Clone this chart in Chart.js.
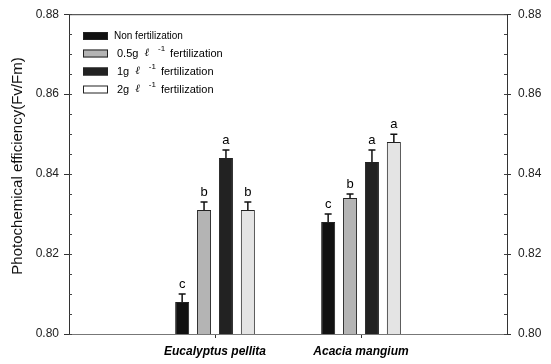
<!DOCTYPE html>
<html>
<head>
<meta charset="utf-8">
<script src="https://cdn.jsdelivr.net/npm/chart.js@4.4.0/dist/chart.umd.min.js"></script>
<style>
  body { margin: 0; background: #fff; }
  #chart { display: block; }
</style>
</head>
<body>
<canvas id="chart" width="551" height="364"></canvas>
<script>
// values
const species = ['Eucalyptus pellita', 'Acacia mangium'];
const nonFert = [0.808, 0.828];
const fert05 = [0.831, 0.834];
const fert1 = [0.844, 0.843];
const fert2 = [0.831, 0.848];
const errNon = [0.002, 0.002];
const err05 = [0.002, 0.001];
const err1 = [0.002, 0.003];
const err2 = [0.002, 0.002];
const lettersNon = ['c', 'c'];
const letters05 = ['b', 'b'];
const letters1 = ['a', 'a'];
const letters2 = ['b', 'a'];
const yTicks = [0.80, 0.82, 0.84, 0.86, 0.88];
const yMinorStep = 0.005;

// empty slots on both sides, like the original axis 0..3
const labels = ['', ...species, ''];
const pad = arr => [null, ...arr, null];

const fills = ['#111111', '#b4b4b4', '#222222', '#e4e4e4'];
const legendRows = [
  { main: 'Non fertilization', sup: null },
  { main: '0.5g', sup: '-1' },
  { main: '1g', sup: '-1' },
  { main: '2g', sup: '-1' }
];

const errors = [errNon, err05, err1, err2];
const letters = [lettersNon, letters05, letters1, letters2];

const data = {
  labels: labels,
  datasets: [
    { label: 'Non fertilization', data: pad(nonFert), backgroundColor: fills[0] },
    { label: '0.5g fertilization', data: pad(fert05), backgroundColor: fills[1] },
    { label: '1g fertilization', data: pad(fert1), backgroundColor: fills[2] },
    { label: '2g fertilization', data: pad(fert2), backgroundColor: fills[3] }
  ].map(ds => Object.assign(ds, {
    borderColor: '#222',
    borderWidth: 1,
    categoryPercentage: 0.6,
    barPercentage: 0.64
  }))
};

// error bars, letters, minor ticks, frame, legend, y title
const extras = {
  id: 'extras',
  afterDatasetsDraw(chart) {
    const ctx = chart.ctx;
    const y = chart.scales.y;
    const area = chart.chartArea;
    ctx.save();

    // error bars + significance letters
    chart.data.datasets.forEach((ds, i) => {
      const meta = chart.getDatasetMeta(i);
      species.forEach((s, j) => {
        const bar = meta.data[j + 1];
        const v = ds.data[j + 1];
        const top = y.getPixelForValue(v + errors[i][j]);
        ctx.strokeStyle = '#111';
        ctx.lineWidth = 1.5;
        ctx.beginPath();
        ctx.moveTo(bar.x, bar.y);
        ctx.lineTo(bar.x, top);
        ctx.moveTo(bar.x - 3.5, top);
        ctx.lineTo(bar.x + 3.5, top);
        ctx.stroke();
        ctx.fillStyle = '#000';
        ctx.font = '13px Arial, "Liberation Sans", sans-serif';
        ctx.textAlign = 'center';
        ctx.textBaseline = 'alphabetic';
        ctx.fillText(letters[i][j], bar.x, top - 6);
      });
    });

    // top frame line
    ctx.strokeStyle = '#333';
    ctx.lineWidth = 1;
    ctx.beginPath();
    ctx.moveTo(area.left, area.top + 0.5);
    ctx.lineTo(area.right, area.top + 0.5);
    ctx.stroke();

    // minor ticks pointing inward on both y axes
    ctx.strokeStyle = '#444';
    for (let v = yTicks[0]; v <= yTicks[yTicks.length - 1] + 1e-9; v += yMinorStep) {
      const py = Math.round(y.getPixelForValue(v)) + 0.5;
      ctx.beginPath();
      ctx.moveTo(area.left, py);
      ctx.lineTo(area.left + 3, py);
      ctx.moveTo(area.right, py);
      ctx.lineTo(area.right - 3, py);
      ctx.stroke();
    }

    // legend
    const sx = 83, sw = 25, sh = 8;
    const rowY = [36, 53.5, 71.5, 89.5];
    legendRows.forEach((row, i) => {
      const cy = rowY[i];
      ctx.fillStyle = i === 3 ? '#ffffff' : fills[i];
      ctx.fillRect(sx, cy - sh / 2, sw, sh);
      ctx.strokeStyle = '#222';
      ctx.lineWidth = 1;
      ctx.strokeRect(sx + 0.5, cy - sh / 2 + 0.5, sw - 1, sh - 1);
      ctx.fillStyle = '#000';
      ctx.textAlign = 'left';
      ctx.textBaseline = 'middle';
      if (!row.sup) {
        ctx.font = '10px Arial, "Liberation Sans", sans-serif';
        ctx.fillText(row.main, 114, cy);
        return;
      }
      ctx.font = '11px Arial, "Liberation Sans", sans-serif';
      let x = 117;
      ctx.fillText(row.main, x, cy);
      x += ctx.measureText(row.main).width + 6;
      ctx.font = 'italic 11px "DejaVu Serif", serif';
      ctx.fillText('\u2113', x, cy);
      x += ctx.measureText('\u2113').width + 9;
      ctx.font = '8px Arial, "Liberation Sans", sans-serif';
      ctx.fillText(row.sup, x, cy - 5);
      x += ctx.measureText(row.sup).width + 5;
      ctx.font = '11px Arial, "Liberation Sans", sans-serif';
      ctx.fillText('fertilization', x, cy);
    });

    // y axis title
    ctx.translate(18, 166);
    ctx.rotate(-Math.PI / 2);
    ctx.font = '15px Arial, "Liberation Sans", sans-serif';
    ctx.fillStyle = '#111';
    ctx.textAlign = 'center';
    ctx.textBaseline = 'middle';
    ctx.fillText('Photochemical efficiency(Fv/Fm)', 0, 0);

    ctx.restore();
  }
};

const setTicks = scale => { scale.ticks = yTicks.map(v => ({ value: v })); };
const tickFont = { family: 'Arial, "Liberation Sans", sans-serif', size: 12 };

const config = {
  type: 'bar',
  data: data,
  options: {
    responsive: false,
    animation: false,
    layout: { padding: { top: 12, left: 0, right: 0, bottom: 0 } },
    plugins: {
      legend: { display: false },
      tooltip: { enabled: false }
    },
    scales: {
      x: {
        type: 'category',
        offset: false,
        grid: {
          offset: false,
          drawOnChartArea: false,
          tickLength: 4,
          color: ctx => (ctx.index === 1 || ctx.index === 2) ? '#333' : 'rgba(0,0,0,0)'
        },
        border: { color: '#777', width: 1 },
        ticks: {
          autoSkip: false,
          maxRotation: 0,
          padding: 6,
          color: '#000',
          font: { family: 'Arial, "Liberation Sans", sans-serif', size: 12, style: 'italic', weight: 'bold' }
        },
        afterFit: scale => { scale.height = 30; }
      },
      y: {
        position: 'left',
        min: 0.80,
        max: 0.88,
        afterBuildTicks: setTicks,
        grid: { drawOnChartArea: false, tickLength: 5, color: '#333' },
        border: { color: '#333', width: 1 },
        ticks: {
          padding: 5,
          color: '#222',
          font: tickFont,
          callback: v => Number(v).toFixed(2)
        },
        afterFit: scale => { scale.width = 69; }
      },
      y2: {
        position: 'right',
        min: 0.80,
        max: 0.88,
        afterBuildTicks: setTicks,
        grid: { drawOnChartArea: false, tickLength: 4, color: '#333' },
        border: { color: '#333', width: 1 },
        ticks: {
          padding: 7,
          color: '#222',
          font: tickFont,
          callback: v => Number(v).toFixed(2)
        },
        afterFit: scale => { scale.width = 44; }
      }
    }
  },
  plugins: [extras]
};

window.addEventListener('DOMContentLoaded', () => {
  const ctx = document.getElementById('chart');
  new Chart(ctx, config);
});
</script>
</body>
</html>
